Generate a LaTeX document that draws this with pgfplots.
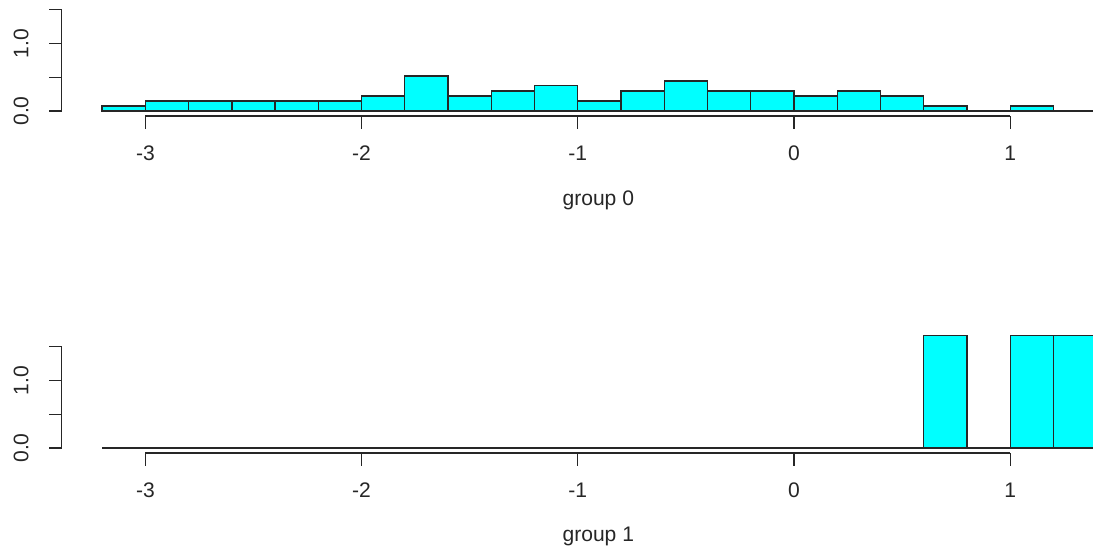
\documentclass[border=0pt]{standalone}
\usepackage{pgfplots}
\pgfplotsset{compat=1.18}
\usepackage{fontspec}
\setmainfont{Liberation Sans}
\definecolor{rcyan}{RGB}{0,255,255}
\pgfplotstableread{
x y
-3.2 0.074
-3.0 0.149
-2.8 0.149
-2.6 0.149
-2.4 0.149
-2.2 0.149
-2.0 0.223
-1.8 0.520
-1.6 0.223
-1.4 0.297
-1.2 0.372
-1.0 0.149
-0.8 0.297
-0.6 0.446
-0.4 0.297
-0.2 0.297
0.0 0.223
0.2 0.297
0.4 0.223
0.6 0.074
0.8 0.0
1.0 0.074
1.2 0.0
}\groupzero
\pgfplotstableread{
x y
0.6 1.667
0.8 0.0
1.0 1.667
1.2 1.667
1.4 0.0
}\groupone
\begin{document}
\begin{tikzpicture}[font=\fontsize{15.8bp}{18bp}\selectfont]
\useasboundingbox (0,0) rectangle (819.75bp,-411bp);
\clip (0,0) rectangle (819.75bp,-411bp);
\pgfplotsset{rstyle/.style={
  anchor=south west, scale only axis, x=162.15bp, y=50.625bp,
  xmin=-3.387, xmax=1.3844, ymin=-0.075,
  axis x line*=bottom, axis y line*=left, axis line style={draw=none},
  tick align=outside, major tick length=9.4bp, minor tick num=0,
  tick style={black!85, line width=1bp},
  xtick={-3,-2,-1,0,1}, xticklabels={-3,-2,-1,0,1},
  ytick={0,0.5,1,1.5}, yticklabels={0.0,,1.0,},
  tick label style={font=\fontsize{15.8bp}{18bp}\selectfont, text=black!85},
  xticklabel style={anchor=base, yshift=-24bp},
  yticklabel style={anchor=center, xshift=-21bp, rotate=90},
  clip=false,
}}
\begin{axis}[rstyle, at={(46.275bp,-87bp)}, ymax=1.644]
  \addplot[black!85, line width=1bp] coordinates {(-3.2,0) (1.6,0)};
  \addplot[ybar interval, fill=rcyan, draw=black!85, line width=1bp] table[x=x,y=y] {\groupzero};
  \draw[black!85, line width=1bp] (axis cs:-3,-0.075) -- (axis cs:1,-0.075);
  \draw[black!85, line width=1bp] (axis cs:-3.387,0) -- (axis cs:-3.387,1.5);
  \node[anchor=base, text=black!85] at (axis cs:-0.905,-1.407) {group 0};
\end{axis}
\begin{axis}[rstyle, at={(46.275bp,-339.75bp)}, ymax=1.9]
  \addplot[black!85, line width=1bp] coordinates {(-3.2,0) (1.6,0)};
  \addplot[ybar interval, fill=rcyan, draw=black!85, line width=1bp] table[x=x,y=y] {\groupone};
  \draw[black!85, line width=1bp] (axis cs:-3,-0.075) -- (axis cs:1,-0.075);
  \draw[black!85, line width=1bp] (axis cs:-3.387,0) -- (axis cs:-3.387,1.5);
  \node[anchor=base, text=black!85] at (axis cs:-0.905,-1.388) {group 1};
\end{axis}
\end{tikzpicture}
\end{document}
